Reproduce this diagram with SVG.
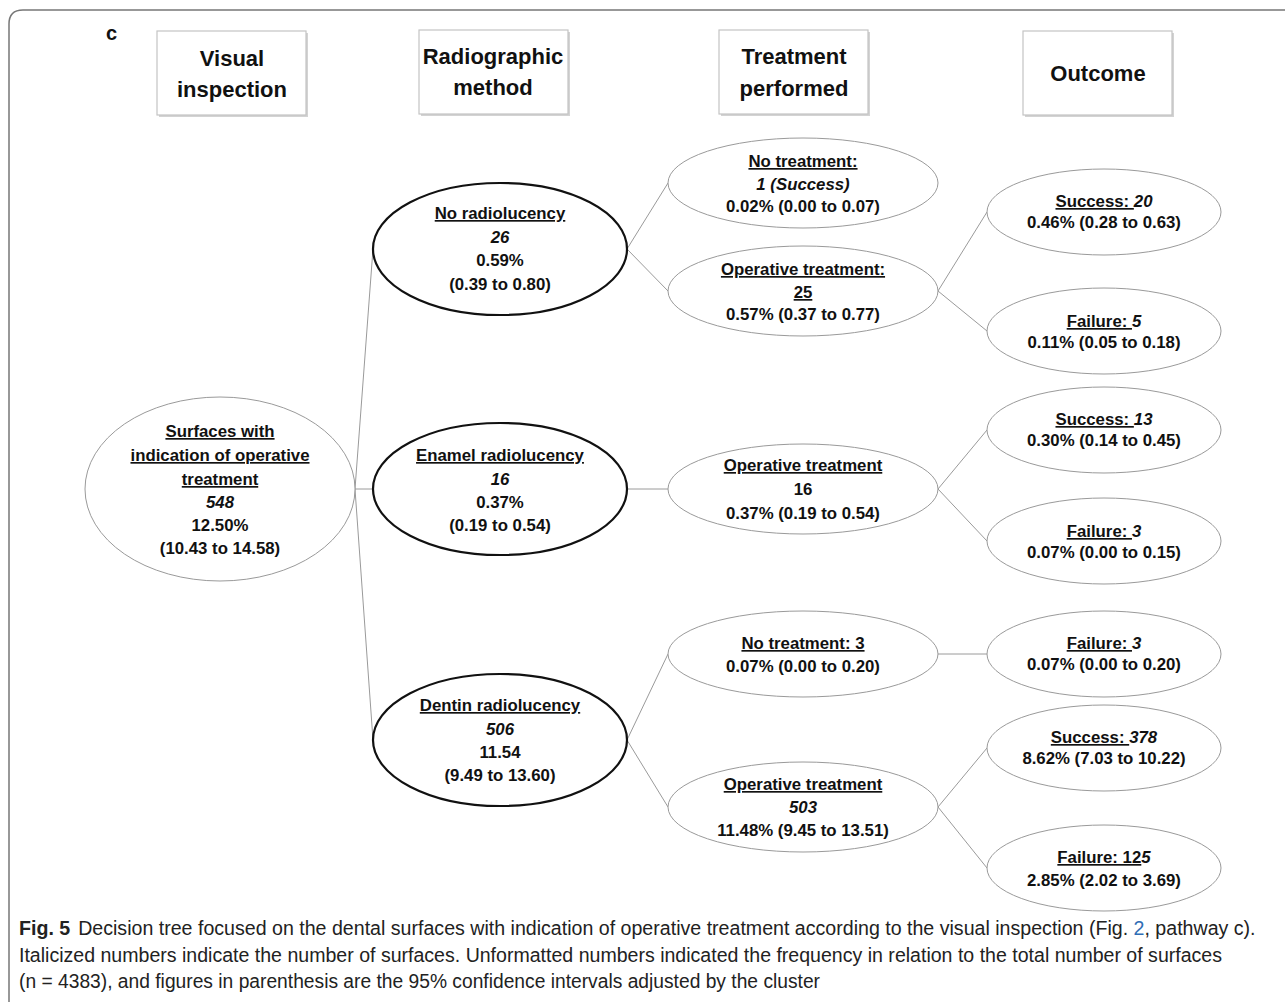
<svg xmlns="http://www.w3.org/2000/svg" width="1285" height="1002" viewBox="0 0 1285 1002">
<style>
.hdr{fill:#fff;stroke:#c4c4c4;stroke-width:1.2}
.hsh{fill:#a8a8a8;opacity:0.5}
.ht{font-family:"Liberation Sans",Arial,sans-serif;font-weight:bold;font-size:22px;fill:#111;text-anchor:middle}
.t{font-family:"Liberation Sans",Arial,sans-serif;font-weight:bold;font-size:16.8px;fill:#111;text-anchor:middle}
.u{text-decoration:underline}
.i{font-style:italic}
.thin{fill:#fff;stroke:#9a9a9a;stroke-width:1}
.thick{fill:#fff;stroke:#111;stroke-width:2.2}
.con line{stroke:#9a9a9a;stroke-width:1}
.cap{font-family:"Liberation Sans",Arial,sans-serif;font-size:20px;fill:#222}
</style>
<rect width="1285" height="1002" fill="#fff"/>
<path d="M9,1002 V24 Q9,10 23,10 H1285" fill="none" stroke="#777" stroke-width="1.5"/>
<text x="106" y="40" font-family="Liberation Sans,Arial,sans-serif" font-weight="bold" font-size="20" fill="#111">c</text>

<g id="hdr-visual">
<rect class="hsh" x="159" y="33" width="149" height="84"/>
<rect class="hdr" x="157" y="31" width="149" height="84"/>
<text class="ht" x="232" y="66">Visual</text>
<text class="ht" x="232" y="97">inspection</text>
</g>
<g id="hdr-radio">
<rect class="hsh" x="421" y="32" width="149" height="84"/>
<rect class="hdr" x="419" y="30" width="149" height="84"/>
<text class="ht" x="493" y="64">Radiographic</text>
<text class="ht" x="493" y="95">method</text>
</g>
<g id="hdr-treat">
<rect class="hsh" x="721" y="32" width="149" height="84"/>
<rect class="hdr" x="719" y="30" width="149" height="84"/>
<text class="ht" x="794" y="64">Treatment</text>
<text class="ht" x="794" y="96">performed</text>
</g>
<g id="hdr-outcome">
<rect class="hsh" x="1025" y="33" width="149" height="84"/>
<rect class="hdr" x="1023" y="31" width="149" height="84"/>
<text class="ht" x="1098" y="81">Outcome</text>
</g>

<g id="connectors" class="con">
<line x1="355" y1="489" x2="373" y2="249"/>
<line x1="355" y1="489" x2="373" y2="489"/>
<line x1="355" y1="489" x2="373" y2="740"/>
<line x1="627" y1="249" x2="668" y2="183"/>
<line x1="627" y1="249" x2="668" y2="291"/>
<line x1="627" y1="489" x2="668" y2="489"/>
<line x1="627" y1="740" x2="668" y2="654"/>
<line x1="627" y1="740" x2="668" y2="807"/>
<line x1="938" y1="291" x2="987" y2="212"/>
<line x1="938" y1="291" x2="987" y2="331"/>
<line x1="938" y1="489" x2="987" y2="430"/>
<line x1="938" y1="489" x2="987" y2="541"/>
<line x1="938" y1="654" x2="987" y2="654"/>
<line x1="938" y1="807" x2="987" y2="748"/>
<line x1="938" y1="807" x2="987" y2="868"/>
</g>

<g id="root">
<ellipse class="thin" cx="220" cy="489" rx="135" ry="92"/>
<text class="t" x="220" y="437"><tspan class="u">Surfaces with</tspan></text>
<text class="t" x="220" y="461"><tspan class="u">indication of operative</tspan></text>
<text class="t" x="220" y="485"><tspan class="u">treatment</tspan></text>
<text class="t i" x="220" y="508">548</text>
<text class="t" x="220" y="531">12.50%</text>
<text class="t" x="220" y="554">(10.43 to 14.58)</text>
</g>

<g id="no-radio">
<ellipse class="thick" cx="500" cy="249" rx="127" ry="66"/>
<text class="t" x="500" y="219"><tspan class="u">No radiolucency</tspan></text>
<text class="t i" x="500" y="243">26</text>
<text class="t" x="500" y="266">0.59%</text>
<text class="t" x="500" y="290">(0.39 to 0.80)</text>
</g>
<g id="enamel">
<ellipse class="thick" cx="500" cy="489" rx="127" ry="66"/>
<text class="t" x="500" y="461"><tspan class="u">Enamel radiolucency</tspan></text>
<text class="t i" x="500" y="485">16</text>
<text class="t" x="500" y="508">0.37%</text>
<text class="t" x="500" y="531">(0.19 to 0.54)</text>
</g>
<g id="dentin">
<ellipse class="thick" cx="500" cy="740" rx="127" ry="66"/>
<text class="t" x="500" y="711"><tspan class="u">Dentin radiolucency</tspan></text>
<text class="t i" x="500" y="735">506</text>
<text class="t" x="500" y="758">11.54</text>
<text class="t" x="500" y="781">(9.49 to 13.60)</text>
</g>

<g id="nt1">
<ellipse class="thin" cx="803" cy="183" rx="135" ry="45"/>
<text class="t" x="803" y="167"><tspan class="u">No treatment:</tspan></text>
<text class="t i" x="803" y="190">1 (Success)</text>
<text class="t" x="803" y="212">0.02% (0.00 to 0.07)</text>
</g>
<g id="ot25">
<ellipse class="thin" cx="803" cy="291" rx="135" ry="45"/>
<text class="t" x="803" y="275"><tspan class="u">Operative treatment:</tspan></text>
<text class="t" x="803" y="298"><tspan class="u">25</tspan></text>
<text class="t" x="803" y="320">0.57% (0.37 to 0.77)</text>
</g>
<g id="ot16">
<ellipse class="thin" cx="803" cy="489" rx="135" ry="45"/>
<text class="t" x="803" y="471"><tspan class="u">Operative treatment</tspan></text>
<text class="t" x="803" y="495">16</text>
<text class="t" x="803" y="519">0.37% (0.19 to 0.54)</text>
</g>
<g id="nt3">
<ellipse class="thin" cx="803" cy="654" rx="135" ry="43"/>
<text class="t" x="803" y="649"><tspan class="u">No treatment: 3</tspan></text>
<text class="t" x="803" y="672">0.07% (0.00 to 0.20)</text>
</g>
<g id="ot503">
<ellipse class="thin" cx="803" cy="807" rx="135" ry="45"/>
<text class="t" x="803" y="790"><tspan class="u">Operative treatment</tspan></text>
<text class="t i" x="803" y="813">503</text>
<text class="t" x="803" y="836">11.48% (9.45 to 13.51)</text>
</g>

<g id="s20">
<ellipse class="thin" cx="1104" cy="212" rx="117" ry="43"/>
<text class="t" x="1104" y="207"><tspan class="u">Success: </tspan><tspan class="i">20</tspan></text>
<text class="t" x="1104" y="228">0.46% (0.28 to 0.63)</text>
</g>
<g id="f5">
<ellipse class="thin" cx="1104" cy="331" rx="117" ry="43"/>
<text class="t" x="1104" y="327"><tspan class="u">Failure: </tspan><tspan class="i">5</tspan></text>
<text class="t" x="1104" y="348">0.11% (0.05 to 0.18)</text>
</g>
<g id="s13">
<ellipse class="thin" cx="1104" cy="430" rx="117" ry="43"/>
<text class="t" x="1104" y="425"><tspan class="u">Success: </tspan><tspan class="i">13</tspan></text>
<text class="t" x="1104" y="446">0.30% (0.14 to 0.45)</text>
</g>
<g id="f3a">
<ellipse class="thin" cx="1104" cy="541" rx="117" ry="43"/>
<text class="t" x="1104" y="537"><tspan class="u">Failure: </tspan><tspan class="i">3</tspan></text>
<text class="t" x="1104" y="558">0.07% (0.00 to 0.15)</text>
</g>
<g id="f3b">
<ellipse class="thin" cx="1104" cy="654" rx="117" ry="43"/>
<text class="t" x="1104" y="649"><tspan class="u">Failure: </tspan><tspan class="i">3</tspan></text>
<text class="t" x="1104" y="670">0.07% (0.00 to 0.20)</text>
</g>
<g id="s378">
<ellipse class="thin" cx="1104" cy="748" rx="117" ry="43"/>
<text class="t" x="1104" y="743"><tspan class="u">Success: </tspan><tspan class="i">378</tspan></text>
<text class="t" x="1104" y="764">8.62% (7.03 to 10.22)</text>
</g>
<g id="f125">
<ellipse class="thin" cx="1104" cy="868" rx="117" ry="43"/>
<text class="t" x="1104" y="863"><tspan class="u">Failure: 12</tspan><tspan class="i">5</tspan></text>
<text class="t" x="1104" y="886">2.85% (2.02 to 3.69)</text>
</g>

<g id="caption" class="cap">
<text x="19" y="935" font-size="19.6"><tspan font-weight="bold">Fig. 5</tspan><tspan dx="8">Decision tree focused on the dental surfaces with indication of operative treatment according to the visual inspection (Fig. </tspan><tspan fill="#2f6db5">2</tspan><tspan>, pathway c).</tspan></text>
<text x="19" y="962" textLength="1203" lengthAdjust="spacingAndGlyphs">Italicized numbers indicate the number of surfaces. Unformatted numbers indicated the frequency in relation to the total number of surfaces</text>
<text x="19" y="988" textLength="801" lengthAdjust="spacingAndGlyphs">(n = 4383), and figures in parenthesis are the 95% confidence intervals adjusted by the cluster</text>
</g>
</svg>
